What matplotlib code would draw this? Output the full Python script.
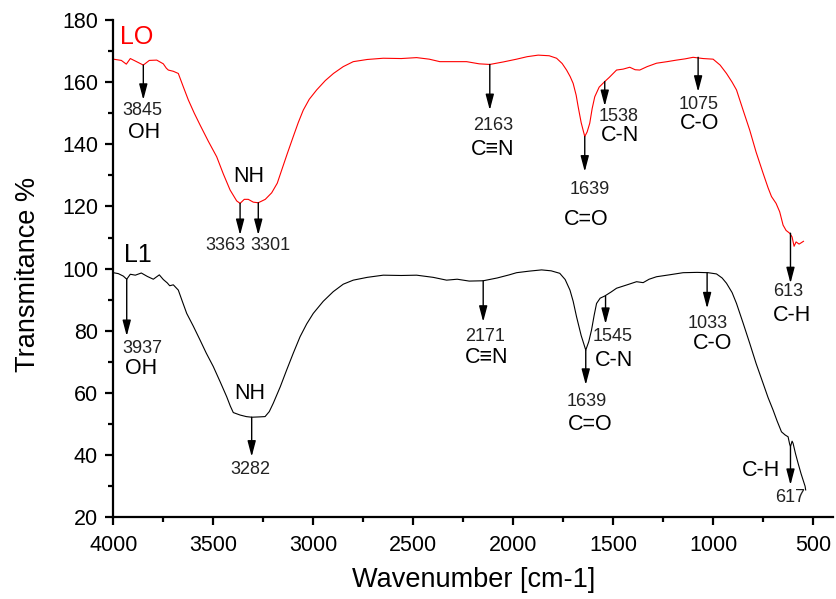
import numpy as np
import matplotlib
matplotlib.use("Agg")
import matplotlib.pyplot as plt
from matplotlib.ticker import MultipleLocator

plt.rcParams['font.family'] = ['Liberation Sans', 'DejaVu Sans']

# LO spectrum (red)
lo_wn = [4000, 3960, 3935, 3915, 3890, 3850, 3820, 3783, 3750, 3735, 3725, 3700, 3675,
         3650, 3625, 3595, 3566, 3525, 3483, 3450, 3416, 3383, 3366, 3345, 3325, 3300,
         3275, 3240, 3208, 3180, 3158, 3130, 3100, 3075, 3050, 3020, 2983, 2940, 2899,
         2850, 2800, 2730, 2650, 2560, 2483, 2420, 2367, 2300, 2233, 2170, 2117, 2050,
         1983, 1930, 1875, 1820, 1783, 1755, 1733, 1715, 1700, 1685, 1675, 1660, 1642,
         1630, 1617, 1605, 1592, 1570, 1542, 1520, 1483, 1450, 1417, 1390, 1367, 1330,
         1283, 1230, 1183, 1140, 1100, 1050, 1000, 965, 933, 905, 883, 850, 817, 785,
         750, 725, 708, 685, 667, 650, 635, 617, 605, 595, 585, 570, 560, 548]
lo_t = [167.4, 167.0, 165.8, 167.6, 166.8, 165.5, 167.0, 167.1, 165.9, 164.5, 163.9, 163.5, 162.8,
        158.5, 154.3, 150.0, 146.2, 141.0, 136.0, 130.5, 125.3, 121.8, 121.0, 122.3, 122.3, 121.4,
        121.2, 122.3, 124.4, 127.5, 131.7, 137.0, 142.5, 147.0, 151.0, 154.5, 157.5, 160.5, 162.8,
        165.0, 166.6, 167.3, 167.7, 167.6, 167.9, 167.4, 166.6, 166.6, 166.6, 165.9, 165.7, 166.5,
        167.4, 168.2, 168.7, 168.5, 167.7, 166.0, 163.9, 161.8, 159.6, 155.8, 152.1, 147.0, 142.5,
        144.0, 146.8, 151.5, 155.3, 158.4, 160.2, 161.5, 163.9, 164.2, 164.8, 164.0, 163.9, 165.0,
        166.1, 166.6, 167.1, 167.5, 168.0, 167.6, 167.4, 165.5, 162.8, 160.0, 157.5, 151.0, 144.6, 137.5,
        130.7, 126.0, 123.2, 121.0, 118.3, 114.0, 112.3, 111.4, 110.2, 107.2, 108.6, 107.9, 108.3, 108.8]

# L1 spectrum (black)
l1_wn = [4000, 3975, 3950, 3933, 3915, 3890, 3860, 3830, 3800, 3770, 3750, 3730, 3718,
         3700, 3675, 3655, 3633, 3600, 3566, 3535, 3500, 3465, 3433, 3415, 3400, 3366,
         3335, 3308, 3270, 3241, 3220, 3200, 3165, 3133, 3100, 3066, 3033, 3000, 2950,
         2900, 2850, 2800, 2730, 2650, 2560, 2483, 2400, 2333, 2280, 2220, 2150, 2080,
         2020, 1983, 1920, 1858, 1810, 1767, 1740, 1716, 1700, 1683, 1660, 1637, 1622,
         1608, 1595, 1583, 1565, 1542, 1510, 1483, 1430, 1383, 1350, 1320, 1283, 1220,
         1150, 1080, 1025, 983, 955, 933, 905, 883, 850, 817, 785, 750, 725, 700, 680,
         658, 640, 625, 617, 613, 605, 600, 588, 575, 560, 550, 540, 537]
l1_t = [98.7, 98.4, 97.6, 96.6, 98.2, 97.9, 98.6, 97.5, 96.6, 98.0, 96.5, 95.4, 94.5,
        94.8, 93.1, 89.5, 85.6, 81.5, 77.0, 72.8, 68.5, 63.5, 58.8, 55.8, 53.7, 52.9,
        52.4, 52.2, 52.3, 52.4, 54.0, 56.7, 62.0, 67.4, 72.8, 78.1, 82.2, 85.6, 89.5,
        92.6, 95.0, 96.3, 97.2, 97.9, 97.8, 97.9, 97.2, 96.3, 96.6, 96.0, 96.1, 97.0,
        98.0, 98.7, 99.2, 99.6, 99.3, 98.5, 96.5, 93.1, 89.5, 84.5, 78.5, 73.8, 76.5,
        80.3, 85.0, 88.8, 90.5, 91.2, 92.5, 93.7, 94.8, 95.8, 95.5, 96.6, 97.4, 98.0,
        98.7, 98.8, 98.7, 98.3, 97.0, 95.3, 92.3, 88.8, 82.5, 76.0, 69.5, 63.1, 58.5, 54.5, 51.0,
        47.5, 46.5, 45.9, 43.5, 42.7, 44.5, 43.8, 40.5, 37.4, 34.0, 32.0, 30.0, 28.8]

# peak arrows: wavenumber, start (on curve), tip
lo_arrow_x = [3850, 3366, 3275, 2117, 1642, 1542, 1075, 613]
lo_arrow_from = [165.5, 121.0, 121.2, 165.7, 142.5, 160.2, 168.0, 111.4]
lo_arrow_to = [154.3, 110.8, 110.8, 151.0, 131.2, 152.3, 156.9, 95.3]
l1_arrow_x = [3933, 3308, 2150, 1637, 1538, 1030, 613]
l1_arrow_from = [96.6, 52.2, 96.1, 73.8, 91.2, 98.7, 42.7]
l1_arrow_to = [78.3, 39.5, 82.9, 62.6, 82.2, 87.2, 30.4]

# peak numbers (small) and group labels
num_text = ["3845", "3363", "3301", "2163", "1639", "1538", "1075", "613",
            "3937", "3282", "2171", "1545", "1639", "1033", "617"]
num_x = [3853, 3438, 3212, 2101, 1617, 1474, 1073, 623,
         3856, 3314, 2142, 1503, 1631, 1026, 613]
num_y = [151.0, 107.3, 107.3, 145.9, 125.6, 149.0, 152.9, 92.6,
         74.4, 35.5, 78.3, 78.2, 57.2, 82.4, 26.4]
grp_text = ["OH", "NH", "C\u2261N", "C=O", "C-N", "C-O", "C-H",
            "OH", "NH", "C\u2261N", "C-N", "C=O", "C-O", "C-H"]
grp_x = [3845, 3324, 2104, 1633, 1464, 1068, 606,
         3861, 3316, 2133, 1498, 1617, 1003, 760]
grp_y = [143.7, 129.6, 138.2, 115.9, 142.7, 146.8, 84.8,
         67.9, 59.8, 71.3, 70.4, 49.9, 75.8, 35.1]

fig = plt.figure(figsize=(8.37, 5.99), dpi=100)
ax = fig.add_axes([0.1354, 0.1364, 0.8599, 0.8302])

ax.plot(lo_wn, lo_t, color='#ff0000', lw=0.8)
ax.plot(l1_wn, l1_t, color='black', lw=0.8)

aprops = dict(arrowstyle='-|>,head_length=0.95,head_width=0.25', color='black',
              lw=1.0, mutation_scale=10, shrinkA=0, shrinkB=0)
for x, y0, y1 in zip(lo_arrow_x + l1_arrow_x, lo_arrow_from + l1_arrow_from,
                     lo_arrow_to + l1_arrow_to):
    ax.annotate('', xy=(x, y1), xytext=(x, y0), arrowprops=aprops)

for t, x, y in zip(num_text, num_x, num_y):
    ax.text(x, y, t, fontsize=13, ha='center', va='center', color='#222222')
for t, x, y in zip(grp_text, grp_x, grp_y):
    ax.text(x, y, t, fontsize=15.5, ha='center', va='center', color='black')

ax.text(3881, 174.6, "LO", fontsize=18, color='#ff0000', ha='center', va='center')
ax.text(3875, 104.4, "L1", fontsize=18, color='black', ha='center', va='center')

ax.set_xlim(4000, 400)
ax.set_ylim(20, 180)
ax.xaxis.set_major_locator(MultipleLocator(500))
ax.xaxis.set_minor_locator(MultipleLocator(250))
ax.yaxis.set_major_locator(MultipleLocator(20))
ax.yaxis.set_minor_locator(MultipleLocator(10))
ax.spines['top'].set_visible(False)
ax.spines['right'].set_visible(False)
for s in ['left', 'bottom']:
    ax.spines[s].set_linewidth(1.6)
ax.tick_params(which='major', direction='out', length=6, width=1.6, labelsize=15.5)
ax.tick_params(axis='x', which='major', pad=7)
ax.tick_params(axis='y', which='major', pad=5)
ax.tick_params(which='minor', direction='out', length=3.5, width=1.6)

ax.set_xlabel("Wavenumber [cm-1]", fontsize=19.5, labelpad=8)
# the y title is drawn taller and narrower than the x title in the source
ax.set_ylabel("Transmitance %", fontsize=19.5,
              family=['Liberation Sans Narrow', 'Liberation Sans', 'DejaVu Sans'])
ax.yaxis.set_label_coords(-0.100, 0.488)

fig.savefig("out.png", dpi=100)
